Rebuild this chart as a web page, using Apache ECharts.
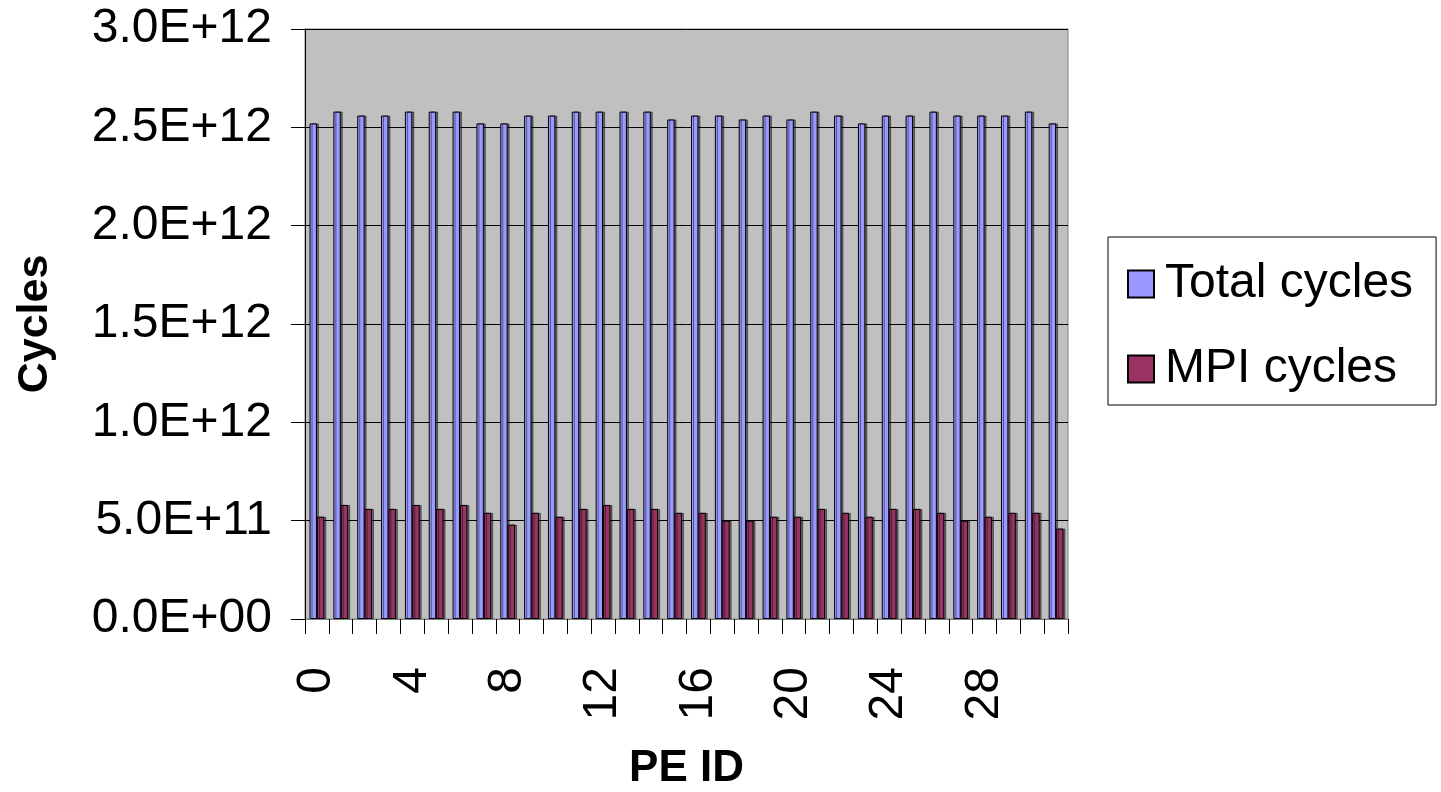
<!DOCTYPE html>
<html>
<head>
<meta charset="utf-8">
<title>Cycles per PE</title>
<script src="https://cdn.jsdelivr.net/npm/echarts@6/dist/echarts.min.js"></script>
<style>
  html, body { margin: 0; padding: 0; background: #ffffff; }
  #chart { width: 1441px; height: 792px; }
</style>
</head>
<body>
<div id="chart"></div>
<script>
// PE identifiers 0..31
const peIds = ['0','1','2','3','4','5','6','7','8','9','10','11','12','13','14','15',
               '16','17','18','19','20','21','22','23','24','25','26','27','28','29','30','31'];

// Total cycles per PE
const totalCycles = [
  2.52e12, 2.58e12, 2.56e12, 2.56e12, 2.58e12, 2.58e12, 2.58e12, 2.52e12,
  2.52e12, 2.56e12, 2.56e12, 2.58e12, 2.58e12, 2.58e12, 2.58e12, 2.54e12,
  2.56e12, 2.56e12, 2.54e12, 2.56e12, 2.54e12, 2.58e12, 2.56e12, 2.52e12,
  2.56e12, 2.56e12, 2.58e12, 2.56e12, 2.56e12, 2.56e12, 2.58e12, 2.52e12
];

// Cycles spent in MPI per PE
const mpiCycles = [
  5.2e11, 5.8e11, 5.6e11, 5.6e11, 5.8e11, 5.6e11, 5.8e11, 5.4e11,
  4.8e11, 5.4e11, 5.2e11, 5.6e11, 5.8e11, 5.6e11, 5.6e11, 5.4e11,
  5.4e11, 5.0e11, 5.0e11, 5.2e11, 5.2e11, 5.6e11, 5.4e11, 5.2e11,
  5.6e11, 5.6e11, 5.4e11, 5.0e11, 5.2e11, 5.4e11, 5.4e11, 4.6e11
];

const seriesNames = ['Total cycles', 'MPI cycles'];
const yMax = 3.0e12;
const yStep = 0.5e12;

const FONT = "'Liberation Sans', Arial, sans-serif";

// Scientific notation like 2.5E+12
function sci(v) {
  if (v === 0) return '0.0E+00';
  const e = Math.floor(Math.log10(v) + 1e-9);
  const m = v / Math.pow(10, e);
  const es = (e < 10 ? '0' : '') + e;
  return m.toFixed(1) + 'E+' + es;
}

const chart = echarts.init(document.getElementById('chart'), null, { renderer: 'canvas' });

const barStyle = (color) => ({
  color: color,
  borderColor: '#000000',
  borderWidth: 1,
  shadowColor: 'rgba(0,0,0,0.45)',
  shadowOffsetX: 2,
  shadowOffsetY: 0,
  shadowBlur: 0
});

chart.setOption({
  animation: false,
  backgroundColor: '#ffffff',
  grid: {
    left: 305, right: 373, top: 29, bottom: 173,
    containLabel: false,
    outerBoundsMode: 'none',
    show: true,
    backgroundColor: '#C0C0C0',
    borderColor: '#808080',
    borderWidth: 1
  },
  legend: {
    orient: 'vertical',
    left: 1108,
    top: 237,
    padding: [23, 23, 12, 19],
    itemGap: 37,
    itemWidth: 26,
    itemHeight: 27,
    icon: 'rect',
    backgroundColor: '#ffffff',
    borderColor: '#000000',
    borderWidth: 1,
    textStyle: { fontFamily: FONT, fontSize: 48, lineHeight: 48, color: '#000000', padding: [0, 0, 0, 6] },
    data: seriesNames
  },
  xAxis: {
    type: 'category',
    data: peIds,
    name: 'PE ID',
    nameLocation: 'middle',
    nameGap: 128,
    nameTextStyle: { fontFamily: FONT, fontSize: 44, fontWeight: 'bold', color: '#000000' },
    axisLine: { lineStyle: { color: '#808080', width: 1 } },
    axisTick: { show: true, interval: 0, length: 15, lineStyle: { color: '#000000' } },
    axisLabel: {
      interval: 3,
      rotate: 90,
      margin: 48,
      fontFamily: FONT,
      fontSize: 48,
      color: '#000000'
    },
    splitLine: { show: false }
  },
  yAxis: {
    type: 'value',
    min: 0,
    max: yMax,
    interval: yStep,
    name: 'Cycles',
    nameLocation: 'middle',
    nameGap: 248,
    nameTextStyle: { fontFamily: FONT, fontSize: 43, fontWeight: 'bold', color: '#000000' },
    axisLine: { show: true, lineStyle: { color: '#000000', width: 1 } },
    axisTick: { show: true, length: 14, lineStyle: { color: '#000000' } },
    axisLabel: {
      margin: 33,
      fontFamily: FONT,
      fontSize: 48,
      color: '#000000',
      formatter: sci
    },
    splitLine: { show: true, lineStyle: { color: '#000000', width: 1 } }
  },
  series: [
    {
      name: seriesNames[0],
      type: 'bar',
      data: totalCycles,
      barGap: '0%',
      barCategoryGap: '38%',
      itemStyle: barStyle('#9999FF')
    },
    {
      name: seriesNames[1],
      type: 'bar',
      data: mpiCycles,
      barGap: '0%',
      barCategoryGap: '38%',
      itemStyle: barStyle('#993366')
    }
  ]
});
</script>
</body>
</html>
